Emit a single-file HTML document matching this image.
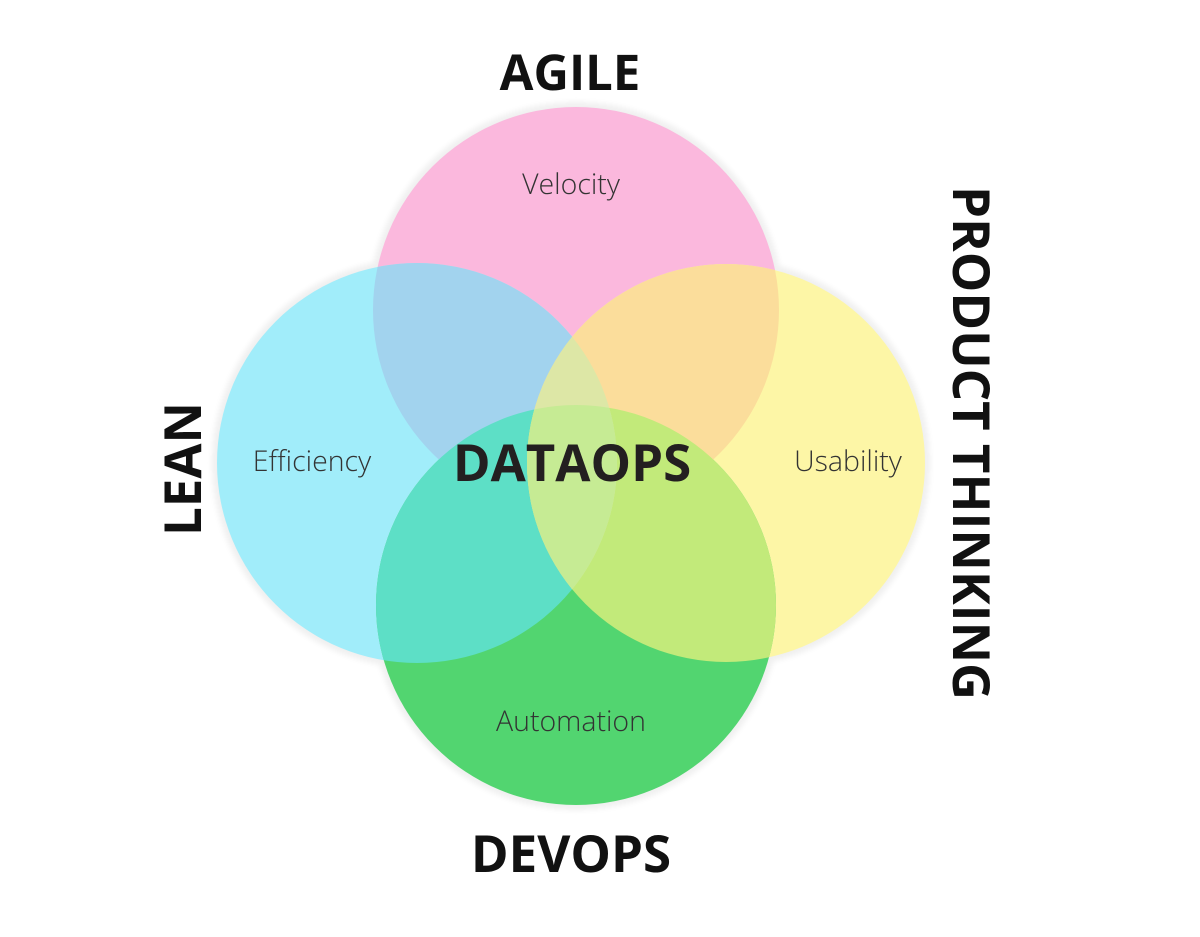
<!DOCTYPE html>
<html><head><style>
html,body{margin:0;padding:0;background:#fff;width:1200px;height:937px;overflow:hidden}
svg{display:block}
text{font-family:"Open Sans","Liberation Sans",sans-serif}
</style></head><body>
<svg width="1200" height="937" viewBox="0 0 1200 937">
<defs>
<circle id="P" cx="576" cy="310" r="203"/>
<circle id="C" cx="417" cy="463" r="200"/>
<circle id="Y" cx="726" cy="463" r="199"/>
<circle id="G" cx="576" cy="605" r="200"/>
<clipPath id="cP"><use href="#P"/></clipPath>
<clipPath id="cC"><use href="#C"/></clipPath>
<clipPath id="cY"><use href="#Y"/></clipPath>
<clipPath id="cG"><use href="#G"/></clipPath>
<filter id="sh" x="-10%" y="-10%" width="120%" height="120%"><feGaussianBlur stdDeviation="3"/></filter>
</defs>
<g fill="#000" opacity="0.06" filter="url(#sh)">
<circle cx="576" cy="310" r="208"/><circle cx="417" cy="463" r="205"/><circle cx="726" cy="463" r="204"/><circle cx="576" cy="605" r="205"/>
</g>
<use href="#P" fill="#fbb8dd"/>
<use href="#C" fill="#a1edfa"/>
<use href="#Y" fill="#fdf6a6"/>
<use href="#G" fill="#52d570"/>
<g clip-path="url(#cP)"><use href="#C" fill="#a2d3ee"/><use href="#Y" fill="#fbdd9b"/></g>
<g clip-path="url(#cG)"><use href="#C" fill="#5ddfc6"/><use href="#Y" fill="#c2ea7a"/></g>
<g clip-path="url(#cC)"><use href="#Y" fill="#dde7a6"/></g>
<g clip-path="url(#cC)"><g clip-path="url(#cG)"><use href="#Y" fill="#c6eb94"/></g></g>
<text x="570" y="90" font-size="49" font-weight="bold" text-anchor="middle" fill="#111">AGILE</text>
<text x="571" y="872" font-size="51" font-weight="bold" text-anchor="middle" fill="#111">DEVOPS</text>
<text transform="translate(201,469) rotate(-90)" font-size="51" font-weight="bold" text-anchor="middle" fill="#111">LEAN</text>
<text transform="translate(953,443) rotate(90)" font-size="51" font-weight="bold" text-anchor="middle" fill="#111">PRODUCT THINKING</text>
<text x="572" y="481" font-size="51" font-weight="bold" text-anchor="middle" fill="#231f20">DATAOPS</text>
<g font-size="28.5" font-weight="300" fill="#333" text-anchor="middle">
<text x="571" y="194">Velocity</text>
<text x="312" y="471">Efficiency</text>
<text x="848" y="471">Usability</text>
<text x="571" y="731">Automation</text>
</g>
</svg>
</body></html>
